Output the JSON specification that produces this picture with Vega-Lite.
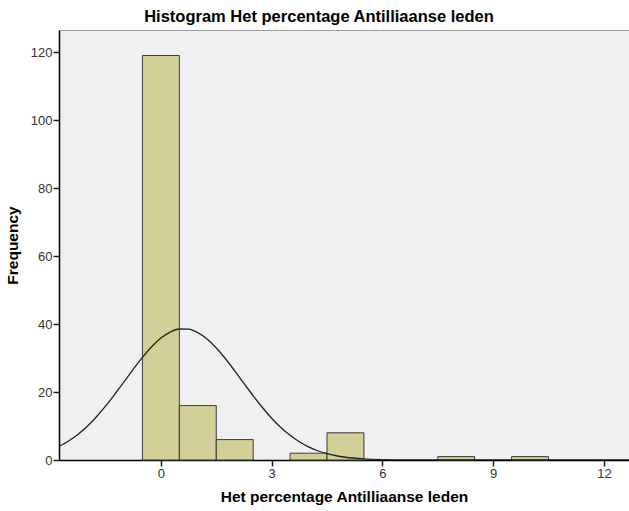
{
  "$schema": "https://vega.github.io/schema/vega-lite/v6.json",
  "width": 570,
  "height": 430,
  "autosize": {"type": "none"},
  "padding": {"left": 59, "top": 30, "right": 0, "bottom": 51},
  "background": "white",
  "title": {
    "text": "Histogram Het percentage Antilliaanse leden",
    "font": "Liberation Sans",
    "fontSize": 16.5,
    "fontWeight": "bold",
    "color": "#000000",
    "anchor": "middle",
    "dx": -25,
    "offset": 5
  },
  "config": {
    "view": {"fill": "#f0f0f0", "stroke": "#9a9a9a", "strokeWidth": 1},
    "axis": {
      "labelFont": "Liberation Sans",
      "labelFontSize": 13,
      "labelColor": "#333333",
      "titleFont": "Liberation Sans",
      "titleFontSize": 15.5,
      "titleFontWeight": "bold",
      "titleColor": "#000000",
      "domainColor": "#000000",
      "domainWidth": 1.5,
      "tickColor": "#222222",
      "tickSize": 6,
      "tickWidth": 1.5,
      "grid": false
    }
  },
  "datasets": {
    "bars": [
      {"bin_start": -0.5, "bin_end": 0.5, "count": 119},
      {"bin_start": 0.5, "bin_end": 1.5, "count": 16},
      {"bin_start": 1.5, "bin_end": 2.5, "count": 6},
      {"bin_start": 3.5, "bin_end": 4.5, "count": 2},
      {"bin_start": 4.5, "bin_end": 5.5, "count": 8},
      {"bin_start": 7.5, "bin_end": 8.5, "count": 1},
      {"bin_start": 9.5, "bin_end": 10.5, "count": 1}
    ],
    "curve": [
      {"x": -2.76, "y": 3.97},
      {"x": -2.5, "y": 5.57},
      {"x": -2.25, "y": 7.51},
      {"x": -2.0, "y": 9.87},
      {"x": -1.75, "y": 12.66},
      {"x": -1.5, "y": 15.84},
      {"x": -1.25, "y": 19.32},
      {"x": -1.0, "y": 22.98},
      {"x": -0.75, "y": 26.67},
      {"x": -0.5, "y": 30.18},
      {"x": -0.25, "y": 33.31},
      {"x": 0.0, "y": 35.86},
      {"x": 0.25, "y": 37.64},
      {"x": 0.5, "y": 38.54},
      {"x": 0.75, "y": 38.48},
      {"x": 1.0, "y": 37.47},
      {"x": 1.25, "y": 35.59},
      {"x": 1.5, "y": 32.96},
      {"x": 1.75, "y": 29.78},
      {"x": 2.0, "y": 26.23},
      {"x": 2.25, "y": 22.54},
      {"x": 2.5, "y": 18.89},
      {"x": 2.75, "y": 15.44},
      {"x": 3.0, "y": 12.3},
      {"x": 3.25, "y": 9.56},
      {"x": 3.5, "y": 7.25},
      {"x": 3.75, "y": 5.36},
      {"x": 4.0, "y": 3.87},
      {"x": 4.25, "y": 2.72},
      {"x": 4.5, "y": 1.86},
      {"x": 4.75, "y": 1.25},
      {"x": 5.0, "y": 0.81},
      {"x": 5.5, "y": 0.32},
      {"x": 6.0, "y": 0.11},
      {"x": 6.5, "y": 0.04},
      {"x": 7.0, "y": 0.01},
      {"x": 8.0, "y": 0.0},
      {"x": 10.0, "y": 0.0},
      {"x": 12.68, "y": 0.0}
    ]
  },
  "layer": [
    {
      "data": {"name": "bars"},
      "mark": {"type": "bar", "fill": "#d3cf98", "stroke": "#3a3a3a", "strokeWidth": 1},
      "encoding": {
        "x": {
          "field": "bin_start",
          "type": "quantitative",
          "scale": {"domain": [-2.76, 12.68], "nice": false, "zero": false},
          "axis": {"values": [0, 3, 6, 9, 12], "title": "Het percentage Antilliaanse leden", "titlePadding": 9, "labelPadding": 1}
        },
        "x2": {"field": "bin_end"},
        "y": {
          "field": "count",
          "type": "quantitative",
          "scale": {"domain": [0, 126.5], "nice": false},
          "axis": {"values": [0, 20, 40, 60, 80, 100, 120], "title": "Frequency", "titlePadding": 10, "labelPadding": 1}
        },
        "y2": {"datum": 0}
      }
    },
    {
      "data": {"name": "curve"},
      "mark": {"type": "line", "color": "#222222", "strokeWidth": 1.3, "interpolate": "monotone", "clip": true},
      "encoding": {
        "x": {"field": "x", "type": "quantitative"},
        "y": {"field": "y", "type": "quantitative"}
      }
    }
  ]
}
